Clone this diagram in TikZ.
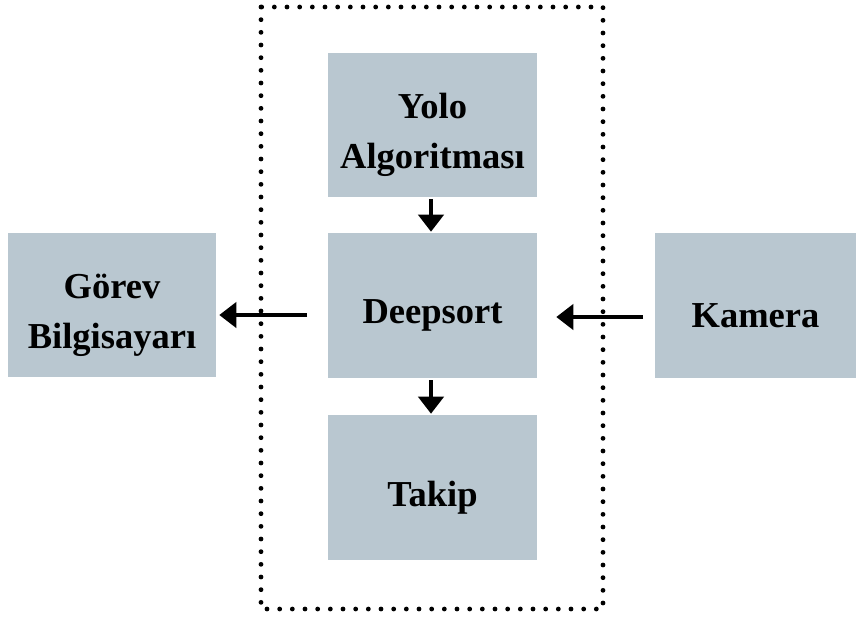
\documentclass[tikz,border=0pt]{standalone}
\usepackage{fontspec}
\setmainfont{Liberation Serif}
\usetikzlibrary{arrows.meta,calc}
\definecolor{boxgray}{HTML}{B9C7D0}
\tikzset{
  blk/.style={fill=boxgray, draw=none, inner sep=0pt},
  lbl/.style={align=center, inner sep=0pt, yshift=-7.5pt,
    font=\bfseries\fontsize{27.4}{37.5}\selectfont},
  conn/.style={line width=3pt, -{Triangle[length=12.75pt,width=18.75pt]}},
  dotbox/.style={line width=3.6pt, line cap=round, dash pattern=on 0pt off 9.5pt}
}
\begin{document}
\begin{tikzpicture}[x=0.75pt,y=-0.75pt]
\useasboundingbox (0,0) rectangle (856,619);
\draw[dotbox] (261,7) rectangle (603,609);
\node[blk, minimum width=156.75pt, minimum height=108pt,
  label={[lbl]center:Yolo\\Algoritması}] (yolo) at (432.5,125) {};
\node[blk, minimum width=156.75pt, minimum height=108.75pt,
  label={[lbl]center:Deepsort}] (deep) at (432.5,305.5) {};
\node[blk, minimum width=156.75pt, minimum height=108.75pt,
  label={[lbl]center:Takip}] (takip) at (432.5,487.5) {};
\node[blk, minimum width=156pt, minimum height=108pt,
  label={[lbl]center:Görev\\Bilgisayarı}] (gorev) at (112,305) {};
\node[blk, minimum width=150.75pt, minimum height=108.75pt,
  label={[lbl]center:Kamera}] (kam) at (755.5,305.5) {};
\coordinate (lstart) at (307,315);
\coordinate (rstart) at (643,317);
\draw[conn] ($(yolo.south)+(-1.5,2)$) -- ($(deep.north)+(-1.5,-1)$);
\draw[conn] ($(deep.south)+(-1.5,2)$) -- ($(takip.north)+(-1.5,-1)$);
\draw[conn] (lstart) -- ($(gorev.east |- lstart)+(3,0)$);
\draw[conn] (rstart) -- ($(deep.east |- rstart)+(19,0)$);
\end{tikzpicture}
\end{document}
